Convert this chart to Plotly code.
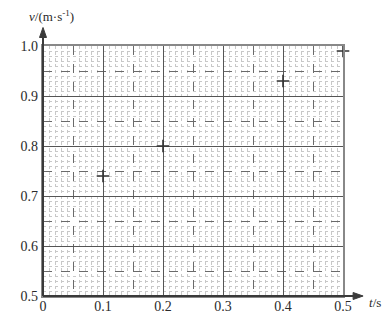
import plotly.graph_objects as go

# data
t_vals = [0.1, 0.2, 0.4, 0.5]
v_vals = [0.74, 0.80, 0.93, 0.99]
x_ticks = [0, 0.1, 0.2, 0.3, 0.4, 0.5]
x_labels = ["0", "0.1", "0.2", "0.3", "0.4", "0.5"]
y_ticks = [0.5, 0.6, 0.7, 0.8, 0.9, 1.0]
y_labels = ["0.5", "0.6", "0.7", "0.8", "0.9", "1.0"]

FONT = "Liberation Serif"
tickfont = dict(family=FONT, size=14, color="#2a2a2a")
AXC = "#3a3a3a"

fig = go.Figure()
fig.add_trace(go.Scatter(x=[None], y=[None], mode="markers", showlegend=False,
                         hoverinfo="skip"))
fig.add_trace(go.Scatter(x=t_vals, y=v_vals, mode="markers", showlegend=False,
                         xaxis="x2", yaxis="y2", cliponaxis=False,
                         marker=dict(symbol="cross-thin", size=9, color="#333",
                                     line=dict(width=1.6, color="#333"))))

base_common = dict(showticklabels=False, ticks="", zeroline=False,
                   showgrid=True, gridcolor="#6a6a6a", griddash="dash", gridwidth=1.2,
                   showline=True, mirror=True, linecolor="#888", linewidth=1.5)

fig.update_layout(
    width=387, height=326,
    margin=dict(l=43, r=44, t=46, b=22),
    paper_bgcolor="white", plot_bgcolor="white",
    showlegend=False,
    xaxis=dict(range=[0, 0.5], tick0=0, dtick=0.05,
               minor=dict(dtick=0.01, showgrid=True, gridcolor="#c8c8c8",
                          griddash="dot", gridwidth=1),
               **base_common),
    yaxis=dict(range=[0.5, 1.0], tick0=0.5, dtick=0.05,
               minor=dict(dtick=0.01, showgrid=True, gridcolor="#c8c8c8",
                          griddash="dot", gridwidth=1),
               **base_common),
    xaxis2=dict(range=[0, 0.5], overlaying="x", anchor="y2", side="bottom",
                tickvals=x_ticks, ticktext=x_labels, tickfont=tickfont,
                showgrid=True, gridcolor="#555", gridwidth=1.3,
                zeroline=False, showline=False, ticks=""),
    yaxis2=dict(range=[0.5, 1.0], overlaying="y", anchor="x2", side="left",
                tickvals=y_ticks, ticktext=y_labels, tickfont=tickfont,
                ticklabelstandoff=4,
                showgrid=True, gridcolor="#555", gridwidth=1.3,
                zeroline=False, showline=False, ticks=""),
)

# axis lines with arrowheads (decoration in paper coordinates)
fig.add_shape(type="line", xref="paper", yref="paper", x0=0, y0=0, x1=0, y1=1.06,
              line=dict(color=AXC, width=2), layer="above")
fig.add_shape(type="path", xref="paper", yref="paper", xsizemode="pixel",
              ysizemode="pixel", xanchor=0, yanchor=1.074,
              path="M -3.5,-10 L 0,0 L 3.5,-10 Z", fillcolor=AXC,
              line=dict(color=AXC, width=1), layer="above")
fig.add_shape(type="line", xref="paper", yref="paper", x0=0, y0=0, x1=1.055, y1=0,
              line=dict(color=AXC, width=2), layer="above")
fig.add_shape(type="path", xref="paper", yref="paper", xsizemode="pixel",
              ysizemode="pixel", xanchor=1.067, yanchor=0,
              path="M -10,-3.5 L 0,0 L -10,3.5 Z", fillcolor=AXC,
              line=dict(color=AXC, width=1), layer="above")

# axis titles
fig.add_annotation(x=-0.053, y=1.12, xref="paper", yref="paper", xanchor="left",
                   yanchor="middle", showarrow=False,
                   text="<i>v</i>/(m·s<sup>-1</sup>)",
                   font=dict(family=FONT, size=13, color="#2a2a2a"))
fig.add_annotation(x=1.08, y=-0.025, xref="paper", yref="paper", xanchor="left",
                   yanchor="middle", showarrow=False, text="<i>t</i>/s",
                   font=dict(family=FONT, size=13, color="#2a2a2a"))

fig.write_html("out.html")
